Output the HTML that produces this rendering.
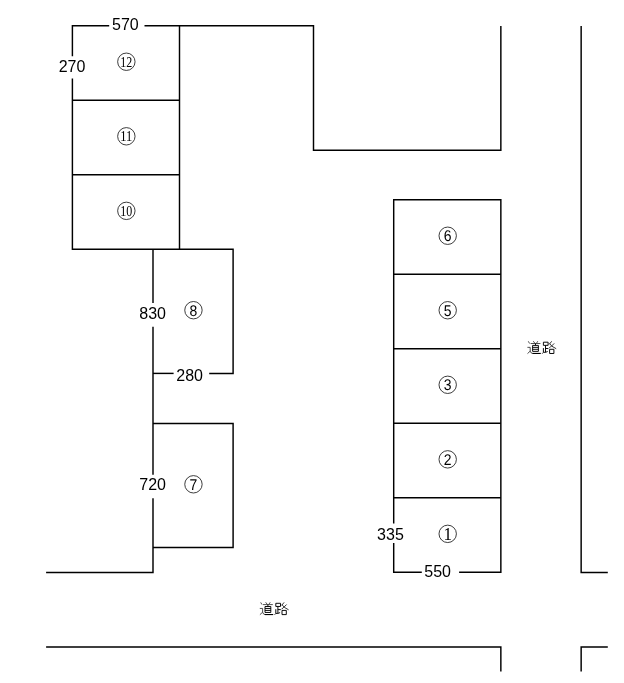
<!DOCTYPE html>
<html><head><meta charset="utf-8"><style>
html,body{margin:0;padding:0;background:#fff;}
svg{display:block;will-change:transform;}
.ci text{text-rendering:geometricPrecision;}
.ln path{fill:none;stroke:#000;stroke-width:1.45;stroke-linejoin:miter;stroke-linecap:butt;}
.dim text{font-family:"Liberation Sans",sans-serif;font-size:16px;text-anchor:middle;fill:#000;}
.ci circle{fill:none;stroke:#1a1a1a;stroke-width:0.85;}
.ci .c1{font-family:"Liberation Serif",serif;font-size:18px;text-anchor:middle;fill:#000;}
.ci .cn{font-family:"Liberation Sans",sans-serif;font-size:15.5px;text-anchor:middle;fill:#000;}
.ci .cs{font-family:"Liberation Serif",serif;font-size:15px;text-anchor:middle;fill:#000;}
</style></head><body>
<svg width="624" height="683" viewBox="0 0 624 683">
<rect width="624" height="683" fill="#fff"/>
<g class="ln">
<path d="M109.2,25.7 H72.4 V56.2"/>
<path d="M144.5,25.7 H313.5 V150.15 H500.85 V25.9"/>
<path d="M179.5,25.7 V249.3"/>
<path d="M72.4,100.2 H179.5"/>
<path d="M72.4,174.8 H179.5"/>
<path d="M72.4,78.5 V249.3 H233.1 V373.4 H209.2"/>
<path d="M173.6,373.4 H153.0"/>
<path d="M153.0,249.3 V303.0"/>
<path d="M153.0,326.8 V474.8"/>
<path d="M153.0,498.2 V572.4 H46.1"/>
<path d="M153.0,423.5 H233.1 V547.5 H153.0"/>
<path d="M581.15,25.9 V572.4 H607.8"/>
<path d="M46.1,646.9 H500.85 V671.6"/>
<path d="M607.8,646.9 H581.15 V671.6"/>
<path d="M459.1,572.30 H500.85 V199.70 H393.7 V523.5"/>
<path d="M393.7,543.1 V572.30 H421.8"/>
<path d="M393.7,274.22 H500.85"/>
<path d="M393.7,348.74 H500.85"/>
<path d="M393.7,423.26 H500.85"/>
<path d="M393.7,497.78 H500.85"/>
</g>
<g class="dim">
<text x="125.35" y="29.90">570</text>
<text x="72.05" y="72.20">270</text>
<text x="152.6" y="319.00">830</text>
<text x="189.65" y="380.55">280</text>
<text x="152.6" y="490.35">720</text>
<text x="390.45" y="540.00">335</text>
<text x="437.6" y="577.06">550</text>
</g>
<g class="ci">
<circle cx="126.35" cy="61.75" r="8.7"/>
<text class="cs" x="126.35" y="66.65" textLength="12" lengthAdjust="spacingAndGlyphs">12</text>
<circle cx="126.35" cy="136.3" r="8.7"/>
<text class="cs" x="126.35" y="141.20" textLength="12" lengthAdjust="spacingAndGlyphs">11</text>
<circle cx="126.35" cy="210.85" r="8.7"/>
<text class="cs" x="126.35" y="215.75" textLength="12" lengthAdjust="spacingAndGlyphs">10</text>
<circle cx="193.45" cy="310.2" r="8.7"/>
<text class="cn" transform="translate(193.45,315.80) scale(0.9,1)">8</text>
<circle cx="193.45" cy="484.3" r="8.7"/>
<text class="cn" transform="translate(193.45,489.90) scale(0.9,1)">7</text>
<circle cx="447.7" cy="235.75" r="8.7"/>
<text class="cn" transform="translate(447.7,241.35) scale(0.9,1)">6</text>
<circle cx="447.7" cy="310.25" r="8.7"/>
<text class="cn" transform="translate(447.7,315.85) scale(0.9,1)">5</text>
<circle cx="447.7" cy="384.8" r="8.7"/>
<text class="cn" transform="translate(447.7,390.40) scale(0.9,1)">3</text>
<circle cx="447.7" cy="459.35" r="8.7"/>
<text class="cn" transform="translate(447.7,464.95) scale(0.9,1)">2</text>
<circle cx="447.7" cy="533.85" r="8.7"/>
<text class="c1" transform="translate(447.7,539.65) scale(0.95,1)">1</text>
</g>
<g id="road" fill="none" stroke="#000" stroke-linecap="butt">
<g stroke-width="0.8" stroke="#222">
<path d="M528.3,341.3 L529.6,343.5"/>
<path d="M533.3,341.2 L534.9,343.3 M537.8,341.2 L536.5,343.2"/>
<path d="M530.6,343.5 H540.4"/>
<path d="M527.4,347.35 H530.2 V351.1 L527.5,353.6"/>
<path d="M530.2,351.1 Q530.9,353.45 532.6,353.45"/>
</g>
<g stroke-width="0.95">
<path d="M535.5,343.5 V345.4"/>
<path d="M532.6,345.4 H538.4 V351.35 H532.6 Z M532.6,347.35 H538.4 M532.6,349.3 H538.4"/>
<path d="M532.4,353.45 H540.8" stroke-width="1.1"/>
<path d="M543.4,345.35 V342.2 H548.1 V345.35 H543.4"/>
<path d="M545.5,345.35 V352.3 M545.5,348.5 H548.4"/>
<path d="M543.4,348.1 V352.3 H545.5 L547.7,351.5"/>
<path d="M549.6,349.3 H553.9 V353.5 H549.6 Z"/>
</g>
<g stroke-width="0.85" stroke="#111">
<path d="M543.4,352.3 L542.2,353.7"/>
<path d="M551.7,341.3 L549.3,344.3"/>
<path d="M549.6,343.6 L552.0,346.3 L556.2,348.7"/>
<path d="M554.2,343.4 L550.6,347.0 L549.2,347.8"/>
</g>
</g>
<use href="#road" transform="translate(-267.6,261.1)"/>
</svg>
</body></html>
